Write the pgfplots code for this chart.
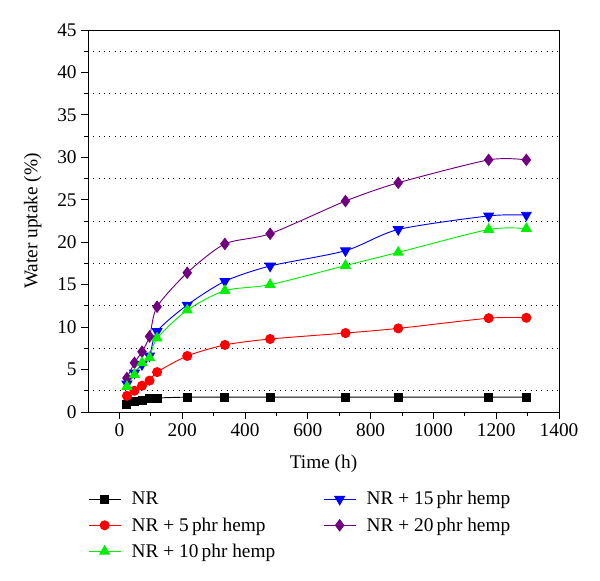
\documentclass[border=0pt]{standalone}
\usepackage{pgfplots}
\pgfplotsset{compat=1.18}
\usepackage{fontspec}
\setmainfont{Liberation Serif}
\definecolor{nrpurple}{RGB}{112,0,128}
\definecolor{nrgreen}{RGB}{0,240,0}

\begin{document}
\begin{tikzpicture}[x=0.75pt,y=0.75pt]
\useasboundingbox (-88,-169) rectangle (512,412);
\begin{axis}[
  at={(0,0)}, anchor=south west,
  scale only axis,
  width=353.25pt, height=286.5pt,
  xmin=-100, xmax=1400,
  ymin=0, ymax=45,
  xtick={0,200,...,1400},
  ytick={0,5,...,45},
  minor x tick num=1,
  minor y tick num=1,
  tick align=outside,
  tick pos=left,
  major tick length=5pt,
  minor tick length=3pt,
  every tick/.style={black, line width=0.6pt},
  ymajorgrids=false,
  yminorgrids=true,
  minor grid style={black, line width=0.7pt, dash pattern=on 0.7pt off 3.3pt},
  axis line style={black, line width=0.7pt},
  font=\fontsize{14.5}{16}\selectfont,
  tick label style={font=\fontsize{14.5}{16}\selectfont},
  /pgf/number format/assume math mode=true,
  /pgf/number format/1000 sep={},
  xlabel={Time (h)},
  ylabel={Water uptake (\%)},
  xlabel style={yshift=-7pt},
  ylabel style={yshift=5pt},
  legend columns=2,
  legend style={at={(0,-0.19)}, anchor=north west, draw=none, fill=none,
    font=\fontsize{14.5}{16}\selectfont,
    /tikz/every odd column/.append style={column sep=6pt},
    /tikz/every even column/.append style={column sep=34pt},
    row sep=4pt, xshift=-3pt, yshift=-1pt},
  legend cell align=left,
  every axis plot/.append style={line width=0.7pt, smooth, tension=0.45},
  legend image code/.code={
    \draw[mark repeat=2, mark phase=2]
      plot coordinates {(0cm,0cm) (0.42cm,0cm) (0.84cm,0cm)};},
]
\addplot [black, mark=square*, mark size=3pt] coordinates {
(24,0.85) (48,1.2) (72,1.35) (96,1.55) (120,1.65) (216,1.75) (336,1.75) (480,1.75) (720,1.75) (888,1.75) (1176,1.75) (1296,1.75)
};
\addlegendentry{NR}
\addplot [blue, mark=triangle*, mark size=4.2pt, mark options={rotate=180}] coordinates {
(24,3.3) (48,4.6) (72,5.6) (96,6.6) (120,9.5) (216,12.6) (336,15.4) (480,17.2) (720,19.0) (888,21.5) (1176,23.1) (1296,23.2)
};
\addlegendentry{NR + 15\,phr hemp}
\addplot [red, mark=*, mark size=3.4pt] coordinates {
(24,1.9) (48,2.5) (72,3.1) (96,3.7) (120,4.7) (216,6.6) (336,7.9) (480,8.6) (720,9.3) (888,9.85) (1176,11.05) (1296,11.1)
};
\addlegendentry{NR + 5\,phr hemp}
\addplot [nrpurple, mark=diamond*, mark size=4.2pt] coordinates {
(24,4.0) (48,5.8) (72,7.1) (96,8.9) (120,12.4) (216,16.4) (336,19.8) (480,21.0) (720,24.85) (888,27.0) (1176,29.7) (1296,29.7)
};
\addlegendentry{NR + 20\,phr hemp}
\addplot [nrgreen, mark=triangle*, mark size=4.2pt] coordinates {
(24,3.0) (48,4.4) (72,5.8) (96,6.4) (120,8.7) (216,12.0) (336,14.3) (480,15.0) (720,17.25) (888,18.8) (1176,21.5) (1296,21.6)
};
\addlegendentry{NR + 10\,phr hemp}
\end{axis}
\end{tikzpicture}
\end{document}
